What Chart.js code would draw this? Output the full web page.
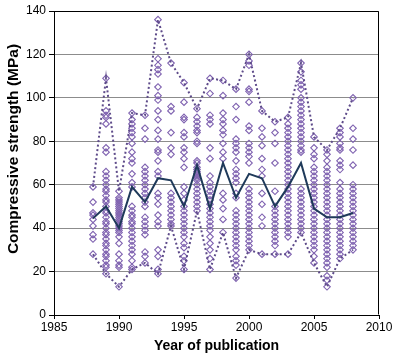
<!DOCTYPE html>
<html>
<head>
<meta charset="utf-8">
<script src="https://cdn.jsdelivr.net/npm/chart.js@4/dist/chart.umd.min.js"></script>
<style>
  html, body { margin: 0; padding: 0; background: #ffffff; }
  #wrap { width: 398px; height: 356px; }
</style>
</head>
<body>
<div id="wrap"><canvas id="c" width="398" height="356"></canvas></div>
<script>
// Years of publication
const years = [1988, 1989, 1990, 1991, 1992, 1993, 1994, 1995, 1996, 1997, 1998,
               1999, 2000, 2001, 2002, 2003, 2004, 2005, 2006, 2007, 2008];

// Mean, maximum and minimum compressive strength per year (MPa)
const meanStrength = [44.5, 50, 40, 59, 52, 63, 62, 50, 69, 49, 70, 54, 65, 63, 50, 59, 70, 49, 45, 45, 47];
const maxStrength  = [59, 109, 57, 93, 92, 136, 116, 107, 95, 109, 108, 104, 120, 94, 89, 91, 116, 82, 76, 86, 100];
const minStrength  = [28, 19, 13, 21, 24, 19, 41, 21, 48, 21, 38, 17, 30, 28, 28, 28, 38, 24, 13, 26, 30];

// Individual reported strengths per year (MPa)
const s1988 = [59, 52, 47, 46, 44, 41, 37, 35, 28];
const s1989 = [109, 94, 92, 91, 88, 77, 75, 66, 64, 62, 60, 58, 57, 55, 53, 52, 50, 48, 47, 45, 43, 42, 40, 38, 37, 35, 33, 32, 30, 28, 27, 25, 23, 22, 19];
const s1990 = [57, 54, 53, 52, 51, 50, 49, 48, 47, 46, 45, 44, 43, 42, 41, 40, 39, 38, 36, 33, 28, 25, 23, 22, 13];
const s1991 = [93, 90, 88, 86, 84, 82, 79, 75, 72, 70, 65, 61, 59, 50, 48, 46, 45, 43, 42, 40, 38, 36, 34, 32, 30, 28, 25, 22, 21];
const s1992 = [92, 86, 81, 68, 66, 64, 62, 60, 58, 56, 54, 52, 50, 45, 43, 41, 39, 37, 29, 27, 24];
const s1993 = [136, 118, 115, 113, 111, 105, 101, 99, 94, 90, 85, 81, 76, 75, 71, 66, 64, 56, 54, 51, 46, 43, 41, 30, 27, 21, 19];
const s1994 = [116, 96, 94, 84, 77, 74, 56, 54, 52, 50, 48, 46, 44, 42, 41];
const s1995 = [107, 98, 91, 90, 84, 82, 77, 75, 72, 68, 59, 56, 53, 50, 48, 46, 44, 42, 40, 38, 36, 33, 31, 27, 25, 21];
const s1996 = [95, 91, 89, 87, 85, 84, 80, 79, 71, 70, 68, 67, 66, 65, 64, 63, 62, 60, 58, 56, 54, 52, 50, 48];
const s1997 = [109, 102, 92, 90, 88, 77, 72, 64, 61, 59, 57, 55, 53, 51, 49, 47, 45, 43, 41, 39, 36, 33, 30, 26, 21];
const s1998 = [108, 101, 93, 90, 88, 85, 83, 79, 75, 72, 56, 53, 49, 44, 38];
const s1999 = [104, 96, 90, 81, 79, 77, 75, 71, 67, 65, 63, 61, 56, 54, 48, 46, 44, 42, 40, 38, 36, 34, 32, 30, 27, 25, 23, 17];
const s2000 = [120, 117, 115, 104, 103, 98, 87, 85, 79, 77, 75, 73, 70, 58, 56, 54, 52, 50, 48, 46, 44, 42, 40, 38, 36, 34, 32, 30];
const s2001 = [94, 86, 82, 78, 72, 67, 64, 56, 51, 45, 41, 28];
const s2002 = [89, 84, 79, 70, 57, 50, 48, 46, 44, 42, 40, 38, 36, 34, 32, 28];
const s2003 = [91, 88, 86, 84, 82, 80, 78, 76, 74, 72, 70, 68, 66, 64, 62, 60, 58, 56, 54, 52, 50, 48, 46, 44, 42, 40, 38, 36, 28];
const s2004 = [116, 112, 108, 106, 104, 100, 98, 96, 94, 92, 90, 88, 86, 84, 82, 80, 78, 76, 75, 58, 56, 54, 52, 50, 48, 46, 44, 42, 40, 38];
const s2005 = [82, 77, 74, 72, 68, 66, 64, 62, 60, 58, 56, 54, 52, 50, 48, 46, 44, 42, 40, 38, 36, 34, 32, 30, 27, 24];
const s2006 = [76, 74, 71, 68, 66, 64, 62, 60, 58, 56, 54, 52, 50, 48, 46, 44, 42, 40, 38, 36, 34, 32, 30, 28, 26, 24, 22, 18, 16, 13];
const s2007 = [86, 84, 82, 79, 77, 76, 71, 69, 67, 61, 58, 56, 54, 52, 50, 48, 46, 44, 42, 40, 38, 36, 34, 32, 30, 28, 26];
const s2008 = [100, 86, 81, 76, 69, 60, 58, 56, 54, 52, 50, 48, 46, 44, 42, 40, 38, 36, 34, 32, 30];

const perYear = [s1988, s1989, s1990, s1991, s1992, s1993, s1994, s1995, s1996, s1997, s1998,
                 s1999, s2000, s2001, s2002, s2003, s2004, s2005, s2006, s2007, s2008];

// Axis labels
const xTitle = 'Year of publication';
const yTitle = 'Compressive strength (MPa)';

const scatterPts = [];
years.forEach((yr, i) => perYear[i].forEach(v => scatterPts.push({ x: yr, y: v })));
const toXY = arr => years.map((yr, i) => ({ x: yr, y: arr[i] }));

const FONT = '"Liberation Sans", Arial, sans-serif';

const frame = {
  id: 'frame',
  afterDraw(chart) {
    const { ctx, chartArea: a } = chart;
    ctx.save();
    ctx.strokeStyle = '#000';
    ctx.lineWidth = 1;
    ctx.beginPath();
    ctx.moveTo(Math.round(a.left) + 0.5, Math.round(a.top) + 0.5);
    ctx.lineTo(Math.round(a.right) - 0.5, Math.round(a.top) + 0.5);
    ctx.lineTo(Math.round(a.right) - 0.5, Math.round(a.bottom) - 0.5);
    ctx.stroke();
    // y-axis title
    ctx.translate(14, 149);
    ctx.rotate(-Math.PI / 2);
    ctx.fillStyle = '#000';
    ctx.font = 'bold 15.5px ' + FONT;
    ctx.textAlign = 'center';
    ctx.textBaseline = 'middle';
    ctx.fillText(yTitle, 0, 0);
    ctx.restore();
  }
};

new Chart(document.getElementById('c'), {
  type: 'scatter',
  data: {
    datasets: [
      {
        label: 'Mean',
        data: toXY(meanStrength),
        showLine: true,
        borderColor: '#1f3a5a',
        borderWidth: 2,
        pointRadius: 0,
        fill: false,
        order: 0
      },
      {
        label: 'Max',
        data: toXY(maxStrength),
        showLine: true,
        borderColor: '#5e4b8a',
        borderWidth: 2,
        borderDash: [2, 2.5],
        pointRadius: 0,
        fill: false,
        order: 1
      },
      {
        label: 'Min',
        data: toXY(minStrength),
        showLine: true,
        borderColor: '#5e4b8a',
        borderWidth: 2,
        borderDash: [2, 2.5],
        pointRadius: 0,
        fill: false,
        order: 1
      },
      {
        label: 'Data',
        data: scatterPts,
        showLine: false,
        pointStyle: 'rectRot',
        pointRadius: 3.3,
        pointBorderWidth: 1.1,
        pointBorderColor: '#7f62b0',
        pointBackgroundColor: 'rgba(255,255,255,0)',
        order: 2
      }
    ]
  },
  options: {
    responsive: false,
    animation: false,
    devicePixelRatio: 1,
    layout: { padding: { top: 11, right: 19, left: 0, bottom: 0 } },
    plugins: { legend: { display: false }, tooltip: { enabled: false } },
    scales: {
      x: {
        type: 'linear',
        min: 1985,
        max: 2010,
        afterFit(s) { s.height = 41; },
        ticks: { stepSize: 5, color: '#000', font: { family: FONT, size: 12 }, padding: 1,
                 callback: v => String(v), maxRotation: 0 },
        grid: { drawOnChartArea: false, drawTicks: true, tickLength: 4, tickColor: '#000' },
        border: { color: '#000', width: 1 },
        title: { display: true, text: xTitle, color: '#000',
                 font: { family: FONT, size: 14, weight: 'bold' }, padding: { top: 0, bottom: 1 } }
      },
      y: {
        min: 0,
        max: 140,
        afterFit(s) { s.width = 54; },
        ticks: { stepSize: 20, color: '#000', font: { family: FONT, size: 12 }, padding: 3 },
        grid: { color: ctx => ctx.tick && ctx.tick.value === 0 ? 'rgba(0,0,0,0)' : '#8c8c8c',
                drawTicks: true, tickLength: 5, tickColor: '#000' },
        border: { color: '#000', width: 1 }
      }
    }
  },
  plugins: [frame]
});
</script>
</body>
</html>
